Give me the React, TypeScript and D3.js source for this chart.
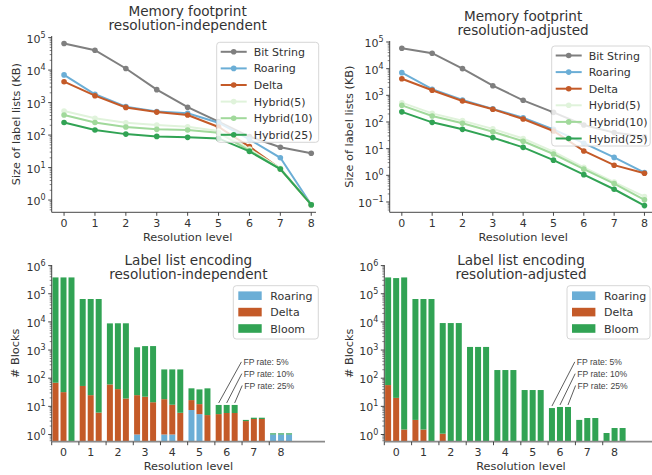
import React from "react";
import * as d3 from "d3";

// ---- data ----
const levels = [0, 1, 2, 3, 4, 5, 6, 7, 8];
const seriesNames = ["Bit String", "Roaring", "Delta", "Hybrid(5)", "Hybrid(10)", "Hybrid(25)"];
const seriesColors = ["#7f7f7f", "#6baed6", "#c45a28", "#e0f3db", "#a1d99b", "#31a354"];

// memory footprint (KB), resolution-independent
const indepBitString = [66000, 41000, 11200, 2500, 720, 260, 90, 42, 27.5];
const indepRoaring = [7100, 1800, 750, 530, 470, 240, 74, 20, 0.72];
const indepDelta = [4400, 1630, 710, 510, 415, 177, 44, 9.2, 0.72];
const indepHybrid5 = [550, 330, 240, 205, 180, 134, 37, 9.5, 0.72];
const indepHybrid10 = [415, 245, 177, 150, 143, 118, 33, 9, 0.72];
const indepHybrid25 = [245, 143, 107, 91, 85, 79, 31.5, 9, 0.72];

// memory footprint (KB), resolution-adjusted
const adjBitString = [58000, 38000, 10000, 2300, 650, 230, 77, 40, 28];
const adjRoaring = [7100, 1700, 670, 310, 145, 53, 16, 4.7, 1.26];
const adjDelta = [4200, 1550, 610, 300, 130, 46, 8.2, 2.4, 1.2];
const adjHybrid5 = [530, 210, 112, 55, 24, 7.7, 2.0, 0.56, 0.16];
const adjHybrid10 = [420, 168, 89, 43, 19, 6.3, 1.7, 0.49, 0.12];
const adjHybrid25 = [240, 97, 53, 26, 11.2, 3.7, 1.06, 0.3, 0.073];

// block counts per level, one entry per FP rate (5%, 10%, 25%)
const encNames = ["Roaring", "Delta", "Bloom"];
const encColors = ["#6baed6", "#c45a28", "#31a354"];
const fpRates = ["FP rate: 5%", "FP rate: 10%", "FP rate: 25%"];

const indepEncRoaring = [[0, 0, 0], [0, 0, 0], [0, 0, 0], [1, 0, 0], [1, 1, 0], [7.4, 5.3, 0], [0, 0, 0], [0, 0, 0], [1, 1, 1]];
const indepEncDelta = [[69, 32, 0], [53, 25, 6], [60, 41, 19], [24, 22, 14], [17, 10.4, 5.9], [9.3, 6.7, 4.9], [5.3, 5.8, 5.8], [3.0, 3.55, 3.55], [0, 0, 0]];
const indepEncBloom = [[380000, 380000, 380000], [65000, 65000, 65000], [8800, 8900, 8900], [1230, 1360, 1370], [187, 194, 199], [27, 28, 38.7], [5.9, 5.4, 5.4], [0.3, 0.4, 0.4], [0.1, 0.1, 0.1]];

const adjEncRoaring = [[0, 0, 0], [0, 0, 0], [0, 0, 0], [0, 0, 0], [0, 0, 0], [0, 0, 0], [0, 0, 0], [0, 0, 0], [0, 0, 0]];
const adjEncDelta = [[57, 20, 1.5], [3.3, 1.5, 0], [1.07, 0, 0], [0, 0, 0], [0, 0, 0], [0, 0, 0], [0, 0, 0], [0, 0, 0], [0, 0, 0]];
const adjEncBloom = [[380000, 360000, 380000], [65000, 65000, 65000], [9100, 9100, 9100], [1290, 1290, 1290], [195, 195, 195], [38, 38, 38], [8.7, 9.5, 9.5], [3.3, 3.85, 3.85], [1.13, 1.7, 1.7]];

const FONT = "DejaVu Sans, sans-serif";
const TXT = "#333";

function logTicks(lo: number, hi: number) {
  const majors: number[] = [];
  const minors: number[] = [];
  for (let e = Math.floor(Math.log10(lo)); e <= Math.ceil(Math.log10(hi)); e++) {
    for (let k = 1; k <= 9; k++) {
      const v = k * Math.pow(10, e);
      if (v < lo * 0.9999 || v > hi * 1.0001) continue;
      if (k === 1) majors.push(e);
      else minors.push(v);
    }
  }
  return { majors, minors };
}

function LogAxis({ y, x0 }: { y: d3.ScaleLogarithmic<number, number>; x0: number }) {
  const [lo, hi] = y.domain();
  const { majors, minors } = logTicks(lo, hi);
  const [b, t] = y.range();
  return (
    <g>
      <line x1={x0} x2={x0} y1={b} y2={t} stroke={TXT} strokeWidth={0.9} />
      {minors.map((v, i) => (
        <line key={"m" + i} x1={x0 - 2} x2={x0} y1={y(v)} y2={y(v)} stroke={TXT} strokeWidth={0.6} />
      ))}
      {majors.map((e) => (
        <g key={e}>
          <line x1={x0 - 3.5} x2={x0} y1={y(Math.pow(10, e))} y2={y(Math.pow(10, e))} stroke={TXT} strokeWidth={0.9} />
          <text x={x0 - 6} y={y(Math.pow(10, e)) + 5} textAnchor="end" fontSize={11} fill={TXT} fontFamily={FONT}>
            10
            <tspan dy={-5} fontSize={8}>{e < 0 ? "\u2212" + -e : String(e)}</tspan>
          </text>
        </g>
      ))}
    </g>
  );
}

type LineCfg = {
  title: string[];
  xRange: [number, number];
  spineEnd: number;
  yRange: [number, number];
  yDomain: [number, number];
  series: number[][];
  legend: { x: number; y: number; w: number; h: number };
  ylabelX: number;
};

function LinePanel({ cfg }: { cfg: LineCfg }) {
  const x = d3.scaleLinear().domain([-0.4, 8.4]).range(cfg.xRange);
  const y = d3.scaleLog().domain(cfg.yDomain).range(cfg.yRange);
  const line = d3
    .line<number>()
    .x((_, i) => x(levels[i]))
    .y((d) => y(d));
  const [bot, top] = cfg.yRange;
  const x0 = cfg.xRange[0];
  const cx = (cfg.xRange[0] + cfg.xRange[1]) / 2;
  const lg = cfg.legend;
  return (
    <g>
      <text x={cx} y={top - 20.5} textAnchor="middle" fontSize={13.6} fill={TXT} fontFamily={FONT}>{cfg.title[0]}</text>
      <text x={cx} y={top - 6} textAnchor="middle" fontSize={13.6} fill={TXT} fontFamily={FONT}>{cfg.title[1]}</text>
      {cfg.series.map((s, i) => (
        <g key={i}>
          <path d={line(s) || ""} fill="none" stroke={seriesColors[i]} strokeWidth={2} />
          {s.map((v, j) => (
            <circle key={j} cx={x(levels[j])} cy={y(v)} r={2.8} fill={seriesColors[i]} />
          ))}
        </g>
      ))}
      <LogAxis y={y} x0={x0} />
      <line x1={x0} x2={cfg.spineEnd} y1={bot} y2={bot} stroke={TXT} strokeWidth={0.9} />
      {levels.map((l) => (
        <g key={l}>
          <line x1={x(l)} x2={x(l)} y1={bot} y2={bot + 3.5} stroke={TXT} strokeWidth={0.9} />
          <text x={x(l)} y={bot + 14.5} textAnchor="middle" fontSize={11} fill={TXT} fontFamily={FONT}>{l}</text>
        </g>
      ))}
      <text x={cx} y={bot + 28.5} textAnchor="middle" fontSize={11.3} fill={TXT} fontFamily={FONT}>Resolution level</text>
      <text transform={`translate(${cfg.ylabelX},${(top + bot) / 2}) rotate(-90)`} textAnchor="middle" dy="0.35em" fontSize={11.3} fill={TXT} fontFamily={FONT}>
        Size of label lists (KB)
      </text>
      <rect x={lg.x} y={lg.y} width={lg.w} height={lg.h} rx={3} fill="white" fillOpacity={0.8} stroke="#ccc" strokeWidth={0.8} />
      {seriesNames.map((n, i) => {
        const ry = lg.y + 9.5 + i * 16.6;
        return (
          <g key={n}>
            <line x1={lg.x + 4} x2={lg.x + 30} y1={ry} y2={ry} stroke={seriesColors[i]} strokeWidth={2} />
            <circle cx={lg.x + 17} cy={ry} r={2.8} fill={seriesColors[i]} />
            <text x={lg.x + 37} y={ry + 4} fontSize={11} fill={TXT} fontFamily={FONT}>{n}</text>
          </g>
        );
      })}
    </g>
  );
}

type BarCfg = {
  title: string[];
  xRange: [number, number];
  roaring: number[][];
  delta: number[][];
  bloom: number[][];
  legend: { x: number; y: number; w: number; h: number };
  ylabelX: number;
};

const barYDomain: [number, number] = [0.555, 1.05e6];
const barYRange: [number, number] = [441.7, 265];

function BarPanel({ cfg }: { cfg: BarCfg }) {
  const x = d3.scaleLinear().domain([0, 10.05]).range(cfg.xRange);
  const y = d3.scaleLog().domain(barYDomain).range(barYRange).clamp(true);
  const [bot, top] = barYRange;
  const x0 = cfg.xRange[0];
  const cx = (cfg.xRange[0] + 10.05 * 27.2 + cfg.xRange[0]) / 2;
  const off = 0.03;
  const step = 0.294;
  const bw = 0.22;
  const lg = cfg.legend;
  const rects: JSX.Element[] = [];
  levels.forEach((l) => {
    [0, 1, 2].forEach((k) => {
      const parts = [cfg.roaring[l][k], cfg.delta[l][k], cfg.bloom[l][k]];
      let cum = 0;
      parts.forEach((v, s) => {
        if (v <= 0) return;
        const y0 = cum > 0 ? y(cum) : bot;
        cum += v;
        const y1 = y(cum);
        const bx = x(l + off + k * step);
        rects.push(
          <rect key={`${l}-${k}-${s}`} x={bx} width={x(bw) - x(0)} y={y1} height={Math.max(0, y0 - y1)} fill={encColors[s]} />
        );
      });
    });
  });
  const totals = [0, 1, 2].map((k) => cfg.roaring[6][k] + cfg.delta[6][k] + cfg.bloom[6][k]);
  const annY = [380, 145, 55];
  return (
    <g>
      <text x={cx} y={top - 0.5} textAnchor="middle" fontSize={13.6} fill={TXT} fontFamily={FONT}>{cfg.title[0]}</text>
      <text x={cx} y={top + 14} textAnchor="middle" fontSize={13.6} fill={TXT} fontFamily={FONT}>{cfg.title[1]}</text>
      {rects}
      <LogAxis y={y} x0={x0} />
      <line x1={x0} x2={cfg.xRange[1]} y1={bot} y2={bot} stroke="#8a8a8a" strokeWidth={1.8} />
      {levels.map((l) => (
        <g key={l}>
          <line x1={x(l)} x2={x(l)} y1={bot} y2={bot + 3.5} stroke={TXT} strokeWidth={0.9} />
          <text x={x(l + off + step + bw / 2)} y={bot + 14.5} textAnchor="middle" fontSize={11} fill={TXT} fontFamily={FONT}>{l}</text>
        </g>
      ))}
      {fpRates.map((t, k) => {
        const tx = x(7.05) + k * 0.4;
        const ty = y(annY[k]);
        return (
          <g key={t}>
            <line x1={tx - 2} y1={ty} x2={x(6 + off + k * step + bw / 2)} y2={y(totals[k]) - 2} stroke={TXT} strokeWidth={0.8} />
            <text x={tx} y={ty + 3} fontSize={8.6} fill="#444" fontFamily="Liberation Sans, Arial, sans-serif">{t}</text>
          </g>
        );
      })}
      <text x={cx} y={bot + 28} textAnchor="middle" fontSize={11.3} fill={TXT} fontFamily={FONT}>Resolution level</text>
      <text transform={`translate(${cfg.ylabelX},${(top + bot) / 2}) rotate(-90)`} textAnchor="middle" dy="0.35em" fontSize={11.3} fill={TXT} fontFamily={FONT}>
        # Blocks
      </text>
      <rect x={lg.x} y={lg.y} width={lg.w} height={lg.h} rx={3} fill="white" fillOpacity={0.8} stroke="#ccc" strokeWidth={0.8} />
      {encNames.map((n, i) => {
        const ry = lg.y + 10 + i * 16.4;
        return (
          <g key={n}>
            <rect x={lg.x + 5} y={ry - 4.3} width={23.4} height={8.6} fill={encColors[i]} />
            <text x={lg.x + 37} y={ry + 4} fontSize={11} fill={TXT} fontFamily={FONT}>{n}</text>
          </g>
        );
      })}
    </g>
  );
}

const topLeft: LineCfg = {
  title: ["Memory footprint", "resolution-independent"],
  xRange: [51.7, 323.6],
  spineEnd: 316,
  yRange: [212.3, 36],
  yDomain: [0.42, 112000],
  series: [indepBitString, indepRoaring, indepDelta, indepHybrid5, indepHybrid10, indepHybrid25],
  legend: { x: 216.7, y: 42.3, w: 102, h: 100 },
  ylabelX: 16,
};

const topRight: LineCfg = {
  title: ["Memory footprint", "resolution-adjusted"],
  xRange: [389.7, 656.6],
  spineEnd: 652,
  yRange: [212.3, 41],
  yDomain: [0.041, 109000],
  series: [adjBitString, adjRoaring, adjDelta, adjHybrid5, adjHybrid10, adjHybrid25],
  legend: { x: 551.7, y: 46, w: 98.5, h: 100 },
  ylabelX: 349,
};

const botLeft: BarCfg = {
  title: ["Label list encoding", "resolution-independent"],
  xRange: [51.7, 325],
  roaring: indepEncRoaring,
  delta: indepEncDelta,
  bloom: indepEncBloom,
  legend: { x: 233.3, y: 285.7, w: 85, h: 53.3 },
  ylabelX: 15,
};

const botRight: BarCfg = {
  title: ["Label list encoding", "resolution-adjusted"],
  xRange: [384.3, 658.7],
  roaring: adjEncRoaring,
  delta: adjEncDelta,
  bloom: adjEncBloom,
  legend: { x: 567, y: 285.7, w: 83, h: 53.3 },
  ylabelX: 349,
};

export default function App() {
  return (
    <svg
      width={652}
      height={475}
      viewBox="0 0 652 475"
      style={{ position: "absolute", left: 0, top: 0, background: "white" }}
    >
      <LinePanel cfg={topLeft} />
      <LinePanel cfg={topRight} />
      <BarPanel cfg={botLeft} />
      <BarPanel cfg={botRight} />
    </svg>
  );
}
